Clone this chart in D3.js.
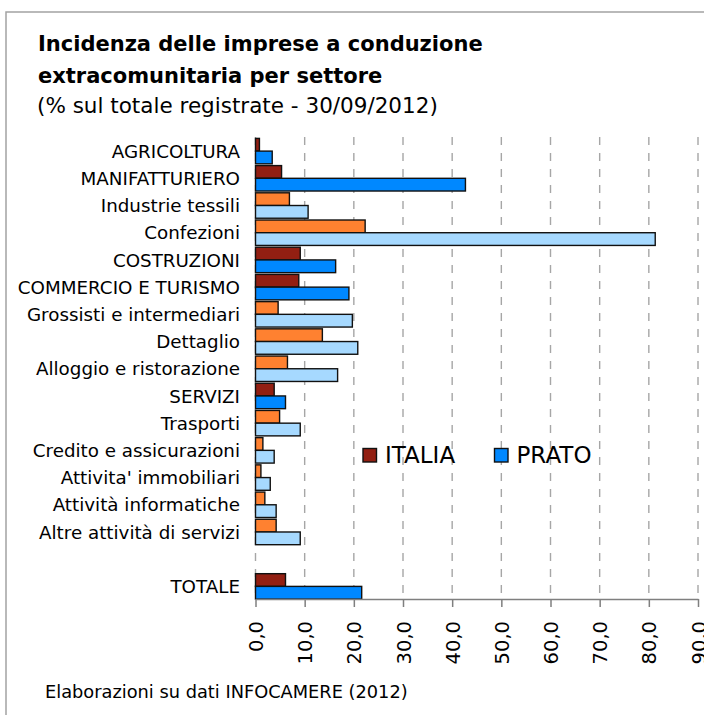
<!DOCTYPE html>
<html>
    <head>
        <meta charset="utf-8">
        <title>Incidenza imprese extracomunitarie</title>
        <style>
         body { margin: 0; background: #fff; }
         svg text { font-family: "DejaVu Sans", sans-serif; fill: #000; }
        </style>
    </head>

    <body>
        <div id="chart"></div>

        <script src="https://cdn.jsdelivr.net/npm/d3@7"></script>
        <script>
         // settori (riga vuota prima del totale)
         var categories = ["AGRICOLTURA", "MANIFATTURIERO", "Industrie tessili", "Confezioni",
                           "COSTRUZIONI", "COMMERCIO E TURISMO", "Grossisti e intermediari",
                           "Dettaglio", "Alloggio e ristorazione", "SERVIZI", "Trasporti",
                           "Credito e assicurazioni", "Attivita' immobiliari",
                           "Attività informatiche", "Altre attività di servizi", "", "TOTALE"]
         // "main" = macro settore, "sub" = comparto
         var levels = ["main", "main", "sub", "sub", "main", "main", "sub", "sub", "sub",
                       "main", "sub", "sub", "sub", "sub", "sub", "", "main"]
         var italia = [0.8, 5.3, 6.9, 22.3, 9.1, 8.8, 4.6, 13.6, 6.5, 3.8, 4.9, 1.5, 1.1, 1.9, 4.2, null, 6.1]
         var prato  = [3.4, 42.7, 10.7, 81.3, 16.3, 19.0, 19.7, 20.8, 16.7, 6.1, 9.1, 3.8, 3.0, 4.2, 9.1, null, 21.6]
         var series = ["ITALIA", "PRATO"]
         var xTicks = [0, 10, 20, 30, 40, 50, 60, 70, 80, 90]

         var colors = {
             main: {ITALIA: "#921f12", PRATO: "#0088ff"},
             sub:  {ITALIA: "#ff8130", PRATO: "#a6d9ff"}
         }

         var W = 704, H = 715

         var svg = d3.select("#chart").append("svg")
                     .attr("width", W)
                     .attr("height", H)

         // cornice
         svg.append("rect")
            .attr("x", 6).attr("y", 12)
            .attr("width", W + 20).attr("height", H + 20)
            .attr("fill", "#fff")
            .attr("stroke", "#a3a3a3")
            .attr("stroke-width", 1.5)

         // titoli
         svg.append("text").attr("x", 38).attr("y", 51)
            .attr("font-weight", "bold").attr("font-size", 21)
            .text("Incidenza delle imprese a conduzione")
         svg.append("text").attr("x", 38).attr("y", 83)
            .attr("font-weight", "bold").attr("font-size", 21)
            .text("extracomunitaria per settore")
         svg.append("text").attr("x", 37).attr("y", 113)
            .attr("font-size", 21.5)
            .text("(% sul totale registrate - 30/09/2012)")

         var x = d3.scaleLinear().domain([0, 90]).range([255.5, 698])
         var y = d3.scaleBand().domain(d3.range(categories.length)).range([137.5, 600])
         var ySub = d3.scaleBand().domain(series).range([0, y.bandwidth()]).paddingOuter(0.07)

         var plot = svg.append("g")

         // griglia tratteggiata
         plot.selectAll("line.grid")
             .data(xTicks)
             .enter().append("line")
             .attr("class", "grid")
             .attr("x1", function(d){ return x(d) })
             .attr("x2", function(d){ return x(d) })
             .attr("y1", 137)
             .attr("y2", 599)
             .attr("stroke", "#a6a6a6")
             .attr("stroke-width", 1.4)
             .attr("stroke-dasharray", "8,8")

         // barre
         var rows = categories.map(function(c, i){
             return {i: i, level: levels[i], values: [
                 {s: "ITALIA", v: italia[i]}, {s: "PRATO", v: prato[i]}]}
         }).filter(function(r){ return r.level !== "" })

         var groups = plot.selectAll("g.row")
                          .data(rows)
                          .enter().append("g")
                          .attr("class", "row")
                          .attr("transform", function(r){ return "translate(0," + y(r.i) + ")" })

         groups.selectAll("rect")
               .data(function(r){ return r.values.map(function(d){ d.level = r.level; return d }) })
               .enter().append("rect")
               .attr("x", x(0))
               .attr("y", function(d){ return ySub(d.s) })
               .attr("width", function(d){ return x(d.v) - x(0) })
               .attr("height", ySub.bandwidth())
               .attr("fill", function(d){ return colors[d.level][d.s] })
               .attr("stroke", "#111")
               .attr("stroke-width", 1.4)

         // etichette categorie
         plot.selectAll("text.cat")
             .data(categories)
             .enter().append("text")
             .attr("class", "cat")
             .attr("x", 240)
             .attr("y", function(d, i){ return y(i) + y.bandwidth() / 2 })
             .attr("dy", "0.36em")
             .attr("text-anchor", "end")
             .attr("font-size", 18.3)
             .text(function(d){ return d })

         // asse x
         var fmt = function(d){ return d3.format(".1f")(d).replace(".", ",") }
         var axis = svg.append("g")
                       .attr("transform", "translate(0,599)")
                       .call(d3.axisBottom(x).tickValues(xTicks).tickSize(8).tickSizeOuter(0).tickFormat(fmt))
         axis.select(".domain").attr("stroke", "#7f7f7f").attr("stroke-width", 1.5)
         axis.selectAll(".tick line").attr("stroke", "#7f7f7f").attr("stroke-width", 1.5)
         axis.selectAll(".tick text")
             .attr("font-family", null)
             .attr("font-size", 19.5)
             .attr("text-anchor", "end")
             .attr("x", 0).attr("y", 0)
             .attr("dy", "0.36em")
             .attr("transform", "translate(0,22) rotate(-90)")

         // legenda
         var legend = svg.append("g")
         var lx = [363, 494.5]
         series.forEach(function(s, i){
             legend.append("rect")
                   .attr("x", lx[i]).attr("y", 448.5)
                   .attr("width", 13.5).attr("height", 13.5)
                   .attr("fill", colors.main[s])
                   .attr("stroke", "#111").attr("stroke-width", 1.4)
             legend.append("text")
                   .attr("x", lx[i] + 22).attr("y", 463)
                   .attr("font-size", 23)
                   .text(s)
         })

         // fonte
         svg.append("text").attr("x", 45).attr("y", 698)
            .attr("font-size", 17.8)
            .text("Elaborazioni su dati INFOCAMERE (2012)")
        </script>
    </body>
</html>
